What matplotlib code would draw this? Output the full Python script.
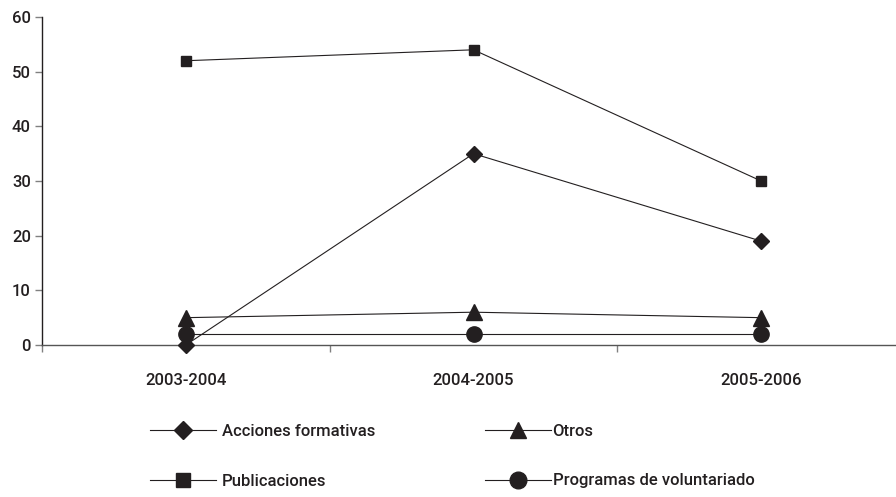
## line chart: actividades por curso

import matplotlib.pyplot as plt
from matplotlib.ticker import FixedLocator, NullFormatter

plt.rcParams['font.family'] = ['Roboto', 'DejaVu Sans']

# data
cursos = ['2003-2004', '2004-2005', '2005-2006']
acciones = [0, 35, 19]
publicaciones = [52, 54, 30]
otros = [5, 6, 5]
programas = [2, 2, 2]
yticks = [0, 10, 20, 30, 40, 50, 60]

ink = '#231f20'
fs = 12

fig = plt.figure(figsize=(8.96, 4.97), dpi=100)
ax = fig.add_axes([42/896, 1-345/497, 863/896, 328/497])

x = range(len(cursos))
h1, = ax.plot(x, acciones, color=ink, lw=0.8, marker='D', ms=8, mfc=ink, mec=ink,
              label='Acciones formativas', clip_on=False, zorder=3)
h2, = ax.plot(x, publicaciones, color=ink, lw=0.8, marker='s', ms=7.5, mfc=ink, mec=ink,
              label='Publicaciones', clip_on=False, zorder=3)
h3, = ax.plot(x, otros, color=ink, lw=0.8, marker='^', ms=11, mfc=ink, mec=ink,
              label='Otros', clip_on=False, zorder=3)
h4, = ax.plot(x, programas, color=ink, lw=0.8, marker='o', ms=11, mfc=ink, mec=ink,
              label='Programas de voluntariado', clip_on=False, zorder=3)

ax.set_xlim(-0.5, 2.5)
ax.set_ylim(0, 60)
ax.set_yticks(yticks)

# category boundaries as ticks, labels on minor ticks
ax.xaxis.set_major_locator(FixedLocator([-0.5, 0.5, 1.5, 2.5]))
ax.xaxis.set_major_formatter(NullFormatter())
ax.xaxis.set_minor_locator(FixedLocator(list(x)))
ax.set_xticklabels(cursos, minor=True)
ax.tick_params(axis='x', which='major', direction='out', length=5, width=1, color='#808080')
ax.tick_params(axis='x', which='minor', length=0, pad=20, labelsize=fs, labelcolor=ink)
ax.tick_params(axis='y', direction='out', length=5, width=1, color='#808080', pad=3,
               labelsize=fs, labelcolor=ink)
for lab in ax.get_xticklabels(minor=True) + ax.get_yticklabels():
    lab.set_fontweight('medium')

ax.spines['top'].set_visible(False)
ax.spines['right'].set_visible(False)
ax.spines['left'].set_color(ink)
ax.spines['bottom'].set_color('#555555')
ax.spines['left'].set_linewidth(1)
ax.spines['bottom'].set_linewidth(1)

# legend in two separate columns
leg_y = 1 - 456/497
legA = fig.legend(handles=[h1, h2], loc='center left', bbox_to_anchor=(150/896, leg_y),
                  frameon=False, borderpad=0, borderaxespad=0, handlelength=3.95,
                  handletextpad=0.35, labelspacing=2.1,
                  prop={'size': fs, 'weight': 'medium'})
legB = fig.legend(handles=[h3, h4], loc='center left', bbox_to_anchor=(485/896, leg_y),
                  frameon=False, borderpad=0, borderaxespad=0, handlelength=3.95,
                  handletextpad=0.1, labelspacing=2.1,
                  prop={'size': fs, 'weight': 'medium'})
for leg, sizes in ((legA, [9, 10.5]), (legB, [12, 12])):
    for t in leg.get_texts():
        t.set_color(ink)
    for hd, s in zip(leg.legend_handles, sizes):
        hd.set_markersize(s)

fig.savefig('out.png', dpi=100)
